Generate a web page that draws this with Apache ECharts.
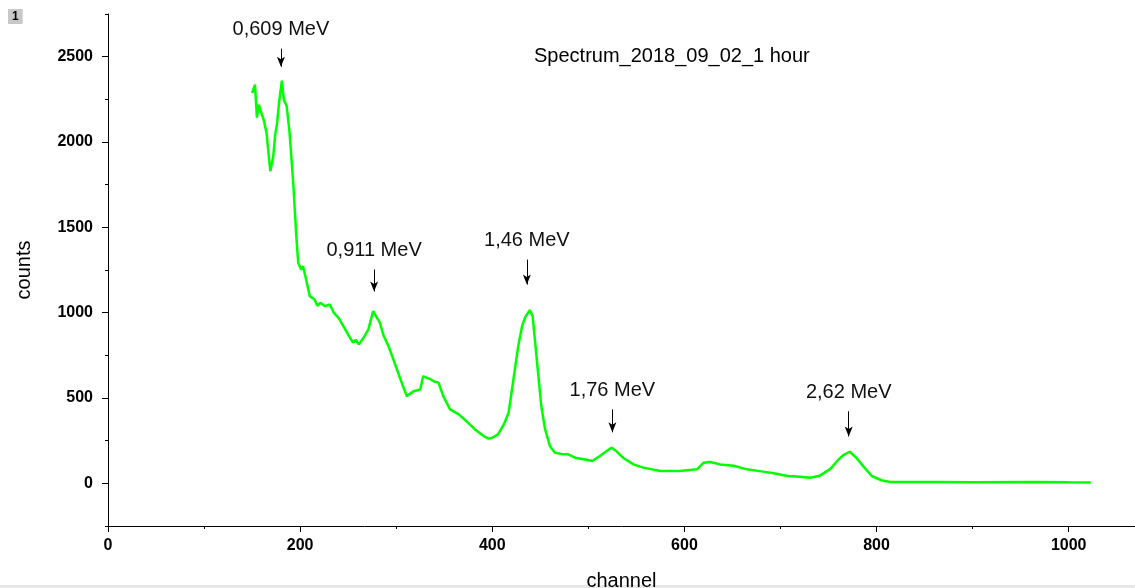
<!DOCTYPE html>
<html>
<head>
<meta charset="utf-8">
<title>Spectrum</title>
<script src="https://cdn.jsdelivr.net/npm/echarts@6/dist/echarts.min.js"></script>
<style>
  html, body { margin: 0; padding: 0; background: #fff; }
  #chart { width: 1135px; height: 588px; }
</style>
</head>
<body>
<div id="chart"></div>
<script>
// spectrum (channel -> counts)
var channels = [150, 153, 155, 157, 159, 162, 165, 167, 169, 172, 174, 176, 178, 181, 183, 186, 189, 191,
  193, 196, 198, 201, 203, 207, 210, 215, 218, 221, 226, 231, 235, 240, 245, 250, 255, 258, 261, 263,
  266, 271, 276, 280, 283, 287, 292, 297, 302, 307, 311, 313, 318, 325, 328, 331, 335, 340, 344, 349,
  356, 365, 373, 382, 391, 396, 400, 406, 412, 417, 420, 424, 427, 431, 434, 439, 442, 445, 448, 451,
  455, 460, 465, 472, 479, 486, 495, 504, 512, 519, 524, 529, 536, 547, 557, 575, 595, 613, 620, 627,
  637, 651, 665, 680, 693, 707, 720, 731, 741, 752, 759, 765, 772, 779, 786, 795, 805, 814, 860, 900,
  963, 1000, 1023]
var counts = [2287, 2336, 2143, 2219, 2180, 2131, 2055, 1938, 1829, 1916, 2040, 2112, 2229, 2360, 2248, 2209,
  2055, 1900, 1741, 1448, 1292, 1253, 1272, 1175, 1097, 1077, 1040, 1058, 1038, 1048, 999, 970, 921, 872,
  824, 840, 814, 830, 853, 902, 1009, 970, 941, 863, 804, 726, 648, 570, 511, 502, 540, 550, 628, 620,
  612, 595, 590, 511, 433, 404, 365, 316, 277, 262, 267, 287, 345, 414, 531, 687, 804, 921, 970, 1015,
  980, 804, 628, 453, 316, 219, 180, 172, 170, 150, 141, 131, 160, 189, 209, 189, 150, 111, 92, 72,
  72, 82, 121, 125, 111, 103, 82, 70, 59, 43, 38, 33, 45, 85, 131, 164, 185, 150, 101, 43, 18, 8,
  8, 6, 8, 6, 5]

// peak markers
var peakChannels = [180, 277, 436, 525, 771]
var peakLabels = ['0,609 MeV', '0,911 MeV', '1,46 MeV', '1,76 MeV', '2,62 MeV']
var arrowTop = [2547, 1253, 1311, 433, 422]
var arrowBottom = [2441, 1124, 1165, 299, 275]

// axis ticks
var xTicks = [0, 200, 400, 600, 800, 1000]
var xMinorTicks = [100, 300, 500, 700, 900]
var yTicks = [0, 500, 1000, 1500, 2000, 2500]
var yMinorTicks = [-250, 250, 750, 1250, 1750, 2250, 2750]

var titleText = 'Spectrum_2018_09_02_1 hour'

var font = "'Liberation Sans', Arial, sans-serif"

var myChart = echarts.init(document.getElementById('chart'))

var markData = peakChannels.map(function (c, i) {
  return [
    { name: peakLabels[i], coord: [c, arrowTop[i]] },
    { coord: [c, arrowBottom[i]] }
  ]
})

function plain(v) {
  return String(v)
}

function minorAxis(dim, ticks, min, max) {
  return {
    type: 'value',
    min: min,
    max: max,
    position: dim === 'x' ? 'bottom' : 'left',
    axisLine: { show: false, onZero: false },
    axisTick: { show: true, customValues: ticks, length: 3, lineStyle: { color: '#000' } },
    axisLabel: { show: false },
    splitLine: { show: false }
  }
}

myChart.setOption({
  animation: false,
  backgroundColor: '#fff',
  textStyle: { fontFamily: font },
  title: [
    {
      text: titleText,
      left: 534,
      top: 46,
      padding: 0,
      textStyle: { fontSize: 20, fontWeight: 'normal', color: '#000', fontFamily: font }
    },
    {
      text: '1',
      left: 8,
      top: 9,
      padding: [2, 4, 1, 4],
      backgroundColor: '#c8c8c8',
      textStyle: { fontSize: 12, fontWeight: 'bold', color: '#000', fontFamily: font }
    }
  ],
  grid: {
    left: 108,
    right: 0,
    top: 14,
    bottom: 62,
    containLabel: false,
    outerBoundsMode: 'none'
  },
  xAxis: [
    {
      type: 'value',
      min: 0,
      max: 1069,
      position: 'bottom',
      name: 'channel',
      nameLocation: 'middle',
      nameGap: 45,
      nameTextStyle: { fontSize: 20, color: '#000', fontFamily: font },
      axisLine: { show: true, onZero: false, lineStyle: { color: '#000', width: 1 } },
      axisTick: { show: true, customValues: xTicks, length: 6, lineStyle: { color: '#000' } },
      axisLabel: {
        customValues: xTicks,
        formatter: plain,
        margin: 12,
        fontSize: 16,
        fontWeight: 'bold',
        color: '#000',
        fontFamily: font
      },
      splitLine: { show: false }
    },
    minorAxis('x', xMinorTicks, 0, 1069)
  ],
  yAxis: [
    {
      type: 'value',
      min: -250,
      max: 2750,
      position: 'left',
      name: 'counts',
      nameLocation: 'middle',
      nameRotate: 90,
      nameGap: 74,
      nameTextStyle: { fontSize: 20, color: '#000', fontFamily: font },
      axisLine: { show: true, onZero: false, lineStyle: { color: '#000', width: 1 } },
      axisTick: { show: true, customValues: yTicks, length: 6, lineStyle: { color: '#000' } },
      axisLabel: {
        customValues: yTicks,
        formatter: plain,
        margin: 15,
        fontSize: 16,
        fontWeight: 'bold',
        color: '#000',
        fontFamily: font
      },
      splitLine: { show: false }
    },
    minorAxis('y', yMinorTicks, -250, 2750)
  ],
  graphic: [
    { type: 'rect', left: 0, top: 585, shape: { width: 1135, height: 3 }, style: { fill: '#e8e8e8' } }
  ],
  series: [
    {
      name: 'spectrum',
      type: 'line',
      xAxisIndex: 0,
      yAxisIndex: 0,
      showSymbol: false,
      symbol: 'none',
      data: channels.map(function (c, i) { return [c, counts[i]] }),
      lineStyle: { color: '#00ff00', width: 2.5 },
      itemStyle: { color: '#00ff00' },
      markLine: {
        silent: true,
        symbol: ['none', 'arrow'],
        symbolSize: [6, 10],
        lineStyle: { color: '#000', width: 1, type: 'solid' },
        label: {
          show: true,
          position: 'start',
          distance: 9,
          formatter: '{b}',
          fontSize: 20,
          color: '#111',
          fontFamily: font
        },
        emphasis: { disabled: true },
        data: markData
      }
    }
  ]
})
</script>
</body>
</html>
